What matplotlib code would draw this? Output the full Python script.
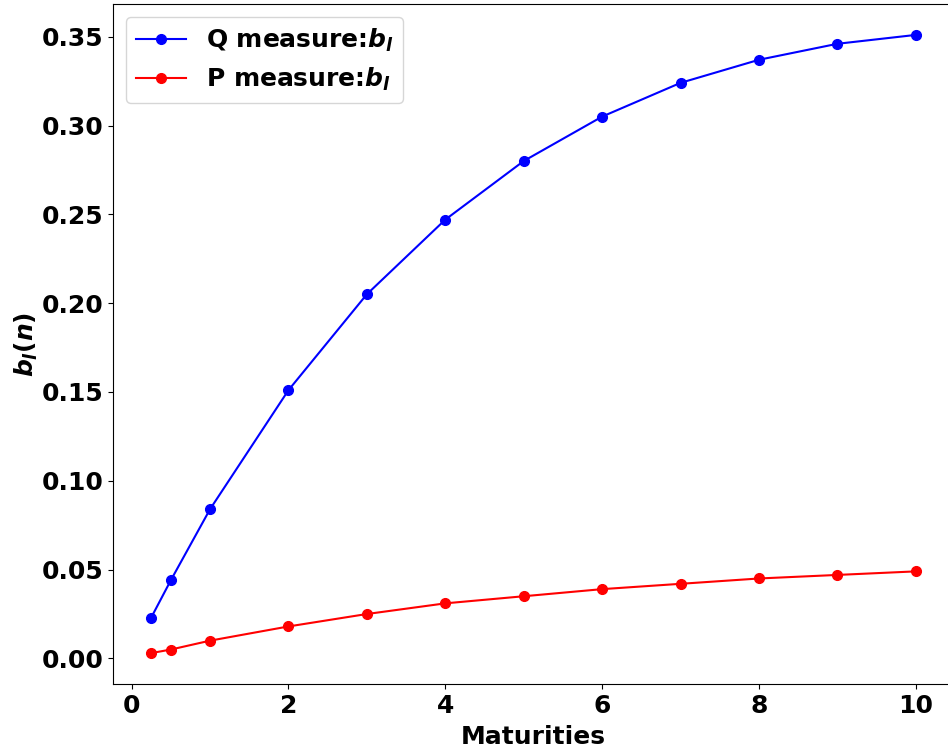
import matplotlib.pyplot as plt

maturities = [0.25, 0.5, 1, 2, 3, 4, 5, 6, 7, 8, 9, 10]
q_bl = [0.023, 0.044, 0.084, 0.151, 0.205, 0.247, 0.280, 0.305, 0.324, 0.337, 0.346, 0.351]
p_bl = [0.003, 0.005, 0.010, 0.018, 0.025, 0.031, 0.035, 0.039, 0.042, 0.045, 0.047, 0.049]

plt.rcParams['font.weight'] = 'bold'
plt.rcParams['font.size'] = 18

fig = plt.figure(figsize=(9.48, 7.48), dpi=100)
ax = fig.add_axes([113 / 948, 64 / 748, (954 - 113) / 948, 680 / 748])

ax.plot(maturities, q_bl, 'o-', color='blue', markersize=7, label=r'Q measure:$\boldsymbol{b_l}$')
ax.plot(maturities, p_bl, 'o-', color='red', markersize=7, label=r'P measure:$\boldsymbol{b_l}$')

ax.set_xlabel('Maturities', fontweight='bold', labelpad=5)
ax.set_ylabel(r'$\boldsymbol{b_l(n)}$', labelpad=1)
for lab in ax.get_xticklabels() + ax.get_yticklabels():
    lab.set_fontweight('bold')
ax.legend(loc='upper left')

fig.savefig('out.png', dpi=100)
